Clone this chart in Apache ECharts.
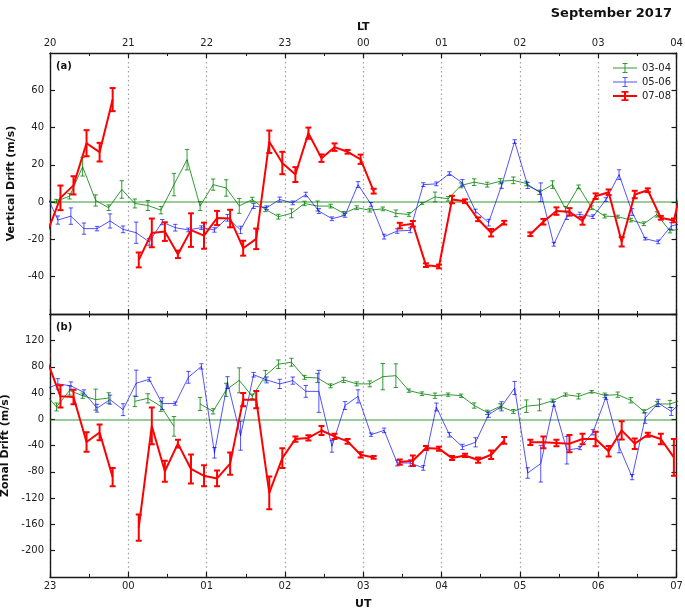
<!DOCTYPE html>
<html><head><meta charset="utf-8">
<script src="https://cdn.jsdelivr.net/npm/echarts/dist/echarts.min.js"></script>
<style>html,body{margin:0;padding:0;background:#fff}#c{width:685px;height:609px}</style>
</head><body><div id="c"></div>
<script>
// ---- tick labels ----
const utLabels = ['23','00','01','02','03','04','05','06','07'];
const ltLabels = ['20','21','22','23','00','01','02','03','04'];
const seriesNames = ['03-04','05-06','07-08'];
// 10-minute slots, minutes after 23:00 UT (first slot starts before 23:00)
const slotStartMin = [-10,0,10,20,30,40,50,60,70,80,90,100,110,120,130,140,150,160,170,180,190,200,210,220,230,240,250,260,270,280,290,300,310,320,330,340,350,360,370,380,390,400,410,420,430,440,450,460,470,480];
// sample time inside each slot (minutes) for each group
const sampleOffsetMin = [5, 6, 8];

// ---- (a) vertical drift (m/s) ----
const vdGreen = [0,0.5,3.2,19,0.9,-3,6.8,-0.7,-1.8,-4.3,9.4,22.8,-2.1,9.4,7.6,-2,1.4,-3.9,-7.8,-6,-0.7,-2.1,-2.1,-6,-3,-4.3,-3.6,-6,-6.6,-0.7,2.8,1.8,9,10.7,9.4,11.2,11.7,10,5.3,9.4,-3.6,8.2,-3,-7.5,-7.8,-9.6,-11.6,-6.6,-15.5,-14];
const vdGreenErr = [1,1,1.5,5,3,1.5,4.7,2.4,2.7,2,6,5.5,2.4,3,4.4,4,1.2,1.2,1.3,2.4,1.2,2.7,1,1,1,1,1,1.8,1,0.5,2.6,1.2,1.3,1.8,1.3,1.4,1.8,1.2,1.2,2,1.3,1,1,1,0.8,1,1,1.4,1,1];
const vdBlue = [6,-9.6,-7.5,-14.2,-14.2,-10.1,-14.6,-16.4,-21.3,-10.7,-13.7,-14.9,-13.7,-14.9,-8.4,-14.9,-2.1,-3,1.4,-0.4,4.1,-4.8,-8.9,-7.1,9.4,-1.2,-18.5,-15.5,-15.1,9.4,9.8,15.3,10.3,-4.8,-11,8.9,32.5,8.9,5.3,-22.6,-7.5,-6.6,-7.8,1.4,14.8,-5.3,-19.6,-21.3,-12.8,-11];
const vdBlueErr = [1,2.2,4.4,3,1.2,3.8,1.8,5.7,1.8,1.4,1.8,1,1,1.2,1.8,2,1.3,1,1.3,1,1.2,1.3,1,1,1.6,1,1.3,1.2,1.3,1,1,1,1.8,1,1.8,1.5,1,1.6,5,1,1.8,1.2,1,1,2.6,1.8,0.7,1,1.8,1];
const vdRed = [-16,2.3,9,31.6,26.8,55,null,-31,-16.5,-15.8,-28,-15,-18,-8.5,-8.8,-24.7,-19.7,32.4,21,14.8,37,23.6,29.5,27,23,5.9,null,-12.6,-11.6,-33.8,-34.5,1.4,0.5,-9.2,-16.4,-11,null,-17.2,-10.5,-4.8,-5.2,-10.1,3.2,5.3,-21.3,4.1,6.4,-8.4,-9.8,20];
const vdRedErr = [3,6.6,4.9,7,5,6.2,0,4,7.7,5,2,9,7,3.8,4.7,4,5.5,6,6,4,3,2,2,1,2.5,1.3,0,1.5,1.5,1,1,2,1,1,2,1,0,1,1.5,2,2,2,1.5,1.5,2.5,2,1,1,1,2];

// ---- (b) zonal drift (m/s) ----
const zdGreen = [42,18.8,44,36,30,32.5,null,27.4,32,19.8,-10.7,null,23.4,12.2,45,59.4,35,66.5,84,87,64,63,51,60,54,54,65,66.5,43.7,39,36,37.6,36,21,10.7,19.8,12,20,22,28.4,37.6,35,42,36.5,37.6,29,12.2,23.4,23.4,30];
const zdGreenErr = [6,6,7,4,16,8,0,8,7,7.6,15,0,10,4,10,19,3.5,8,6.5,6,3,7,3,4,3,4.5,20,18,2.5,2.8,4,2.5,2.5,4,3.3,4,3,9.6,9,2.5,2.5,4,2,3.5,4,4,2.5,4,5.5,3];
const zdBlue = [45,54,51,41,17,30,14.7,55,61,24,24,64,80.7,-51,56,-25,68,60,54,59,42.6,42.6,-41,21,35,-23.4,-16.8,-66.5,-66.5,-74,18.8,-23.4,-42,-35,7,19.8,47.7,-81.7,-67.5,23.4,-47,-43.7,-19.8,34,-41,-88,2,25,12,30];
const zdBlueErr = [6,8,6,4,6,7,9,20,3,9,2.5,9,4,8,9,22,3.5,4.5,7,5.5,9,32,9,6,10,2.5,3.5,4.5,5,3.5,6,3.5,4,7,4,7,10,8,28,3.5,21,2.5,4,3.5,10,4,8,5.5,6,5];
const zdRed = [88,35,34,-34.5,-20,-88,null,-165,-10,-79,-37,-75.6,-86,-90,-67.5,30,30,-112,-59,-30,-28.4,-17,-26,-33.5,-54,-58,null,-65,-63,-43.7,-44.7,-59,-55,-62,-54,-32,null,-35,-35,-36,-37,-30,-30,-48.7,-16.8,-37,-23.4,-30,-58,null];
const zdRedErr = [10,17,11,15,12,14,0,20,28,16,6,22,16,12,17,10,13,25,15,4,4,7,4,3.5,4,2,0,4,8,3,3,3,2.5,4,6.5,5,0,4,9,5,13,8,11,8,14,8,3,8,28,0];

// ---- styling ----
const FONT = 'DejaVu Sans';
const COLORS = ['rgba(0,128,0,0.8)', 'rgba(0,0,255,0.68)', '#ff0000'];
const LW = [1, 1, 2];
const CAP = [2.2, 2.2, 3];
const AXC = '#1a1a1a';

function pts(vals, errs, g) {
  const line = [], eb = [];
  for (let i = 0; i < vals.length; i++) {
    const t = (slotStartMin[i] + sampleOffsetMin[g]) / 60;
    const v = vals[i];
    line.push([t, v === null ? null : v]);
    if (v !== null) eb.push([t, v, errs[i]]);
  }
  return {line, eb};
}

function errRender(color, lw, cap) {
  return function (params, api) {
    const t = api.value(0), v = api.value(1), e = api.value(2);
    const a = api.coord([t, v + e]), b = api.coord([t, v - e]);
    const x = a[0];
    const st = {stroke: color, lineWidth: lw, fill: null};
    return {type: 'group', children: [
      {type: 'line', shape: {x1: x, y1: a[1], x2: x, y2: b[1]}, style: st},
      {type: 'line', shape: {x1: x - cap, y1: a[1], x2: x + cap, y2: a[1]}, style: st},
      {type: 'line', shape: {x1: x - cap, y1: b[1], x2: x + cap, y2: b[1]}, style: st}
    ]};
  };
}

function xAx(gridIndex, position, labels, name, nameGap, split) {
  return {
    type: 'value', gridIndex, position, min: 0, max: 8, interval: 1,
    axisLine: {show: true, onZero: false, lineStyle: {color: AXC, width: 1.4}},
    axisTick: {show: true, inside: true, length: 5, lineStyle: {color: AXC, width: 1.2}},
    minorTick: {show: true, splitNumber: 2, length: 3, lineStyle: {color: AXC, width: 1}},
    axisLabel: {show: !!labels, margin: 5, fontSize: 10, color: '#222', fontFamily: FONT,
      formatter: v => labels ? labels[Math.round(v)] : ''},
    splitLine: {show: split, lineStyle: {color: '#a0a0a0', width: 1.2, type: [1.5, 3]}},
    minorSplitLine: {show: false},
    name: name || '', nameLocation: 'middle', nameGap: nameGap || 0,
    nameTextStyle: {fontWeight: 'bold', fontSize: 11, color: '#111', fontFamily: FONT}
  };
}
function yAx(gridIndex, position, showLabels, min, max, interval, name) {
  return {
    type: 'value', gridIndex, position, min, max, interval,
    axisLine: {show: true, onZero: false, lineStyle: {color: AXC, width: 1.4}},
    axisTick: {show: true, inside: true, length: 5, lineStyle: {color: AXC, width: 1.2}},
    axisLabel: {show: showLabels, showMinLabel: false, showMaxLabel: false, margin: 6,
      fontSize: 10, color: '#222', fontFamily: FONT},
    splitLine: {show: false},
    name: name || '', nameLocation: 'middle', nameGap: 33,
    nameTextStyle: {fontWeight: 'bold', fontSize: 11, color: '#111', fontFamily: FONT}
  };
}

const panels = [
  {xi: 0, yi: 0, data: [[vdGreen, vdGreenErr], [vdBlue, vdBlueErr], [vdRed, vdRedErr]]},
  {xi: 3, yi: 2, data: [[zdGreen, zdGreenErr], [zdBlue, zdBlueErr], [zdRed, zdRedErr]]}
];
const series = [];
panels.forEach((p, pi) => {
  p.data.forEach((d, g) => {
    const {line, eb} = pts(d[0], d[1], g);
    series.push({
      type: 'custom', name: seriesNames[g] + ' err', xAxisIndex: p.xi, yAxisIndex: p.yi,
      data: eb, renderItem: errRender(COLORS[g], LW[g], CAP[g]), clip: true, silent: true,
      z: 3 + g, encode: {x: 0, y: 1}
    });
    const s = {
      type: 'line', name: seriesNames[g], xAxisIndex: p.xi, yAxisIndex: p.yi, data: line,
      showSymbol: false, symbol: 'none', connectNulls: false, clip: true, silent: true,
      lineStyle: {color: COLORS[g], width: LW[g]}, itemStyle: {color: COLORS[g]},
      z: 3 + g, animation: false
    };
    if (g === 0) {
      s.markLine = {silent: true, symbol: 'none', label: {show: false},
        lineStyle: {color: 'rgba(0,128,0,0.4)', width: 2, type: 'solid'},
        data: [{yAxis: 0}], z: 2};
    }
    series.push(s);
  });
});

const legIcons = [
  'path://M0,4.5h24v1h-24Z M11.5,0h1v10h-1Z M9.5,0h5v1h-5Z M9.5,9h5v1h-5Z',
  'path://M0,4.5h24v1h-24Z M11.5,0h1v10h-1Z M9.5,0h5v1h-5Z M9.5,9h5v1h-5Z',
  'path://M0,4h24v2h-24Z M11,0h2v10h-2Z M8.5,0h7v1.8h-7Z M8.5,8.2h7v1.8h-7Z'
];

const chart = echarts.init(document.getElementById('c'), null, {renderer: 'canvas'});
chart.setOption({
  animation: false,
  backgroundColor: '#fff',
  textStyle: {fontFamily: FONT},
  title: {text: 'September 2017', right: 8, top: 2,
    textStyle: {fontSize: 13, fontWeight: 'bold', color: '#111', fontFamily: FONT}},
  legend: {
    left: 608, top: 58, orient: 'vertical', itemWidth: 24, itemHeight: 10, itemGap: 4,
    textStyle: {fontSize: 10, color: '#222', fontFamily: FONT},
    data: seriesNames.map((n, i) => ({name: n, icon: legIcons[i]})),
    selectedMode: false
  },
  grid: [
    {left: 50, top: 53, width: 626.5, height: 261, containLabel: false, outerBoundsMode: 'none'},
    {left: 50, top: 314.3, width: 626.5, height: 262.6, containLabel: false, outerBoundsMode: 'none'}
  ],
  xAxis: [
    xAx(0, 'bottom', null, '', 0, true),
    xAx(0, 'top', ltLabels, 'LT', 20, false),
    xAx(1, 'top', null, '', 0, false),
    xAx(1, 'bottom', utLabels, 'UT', 22, true)
  ],
  yAxis: [
    yAx(0, 'left', true, -60, 80, 20, 'Vertical Drift (m/s)'),
    yAx(0, 'right', false, -60, 80, 20, ''),
    yAx(1, 'left', true, -240, 160, 40, 'Zonal Drift (m/s)'),
    yAx(1, 'right', false, -240, 160, 40, '')
  ],
  graphic: [
    {type: 'text', left: 56, top: 61, style: {text: '(a)', font: 'bold 10px "DejaVu Sans"', fill: '#111'}},
    {type: 'text', left: 56, top: 322, style: {text: '(b)', font: 'bold 10px "DejaVu Sans"', fill: '#111'}}
  ],
  series
});
</script>
</body></html>
